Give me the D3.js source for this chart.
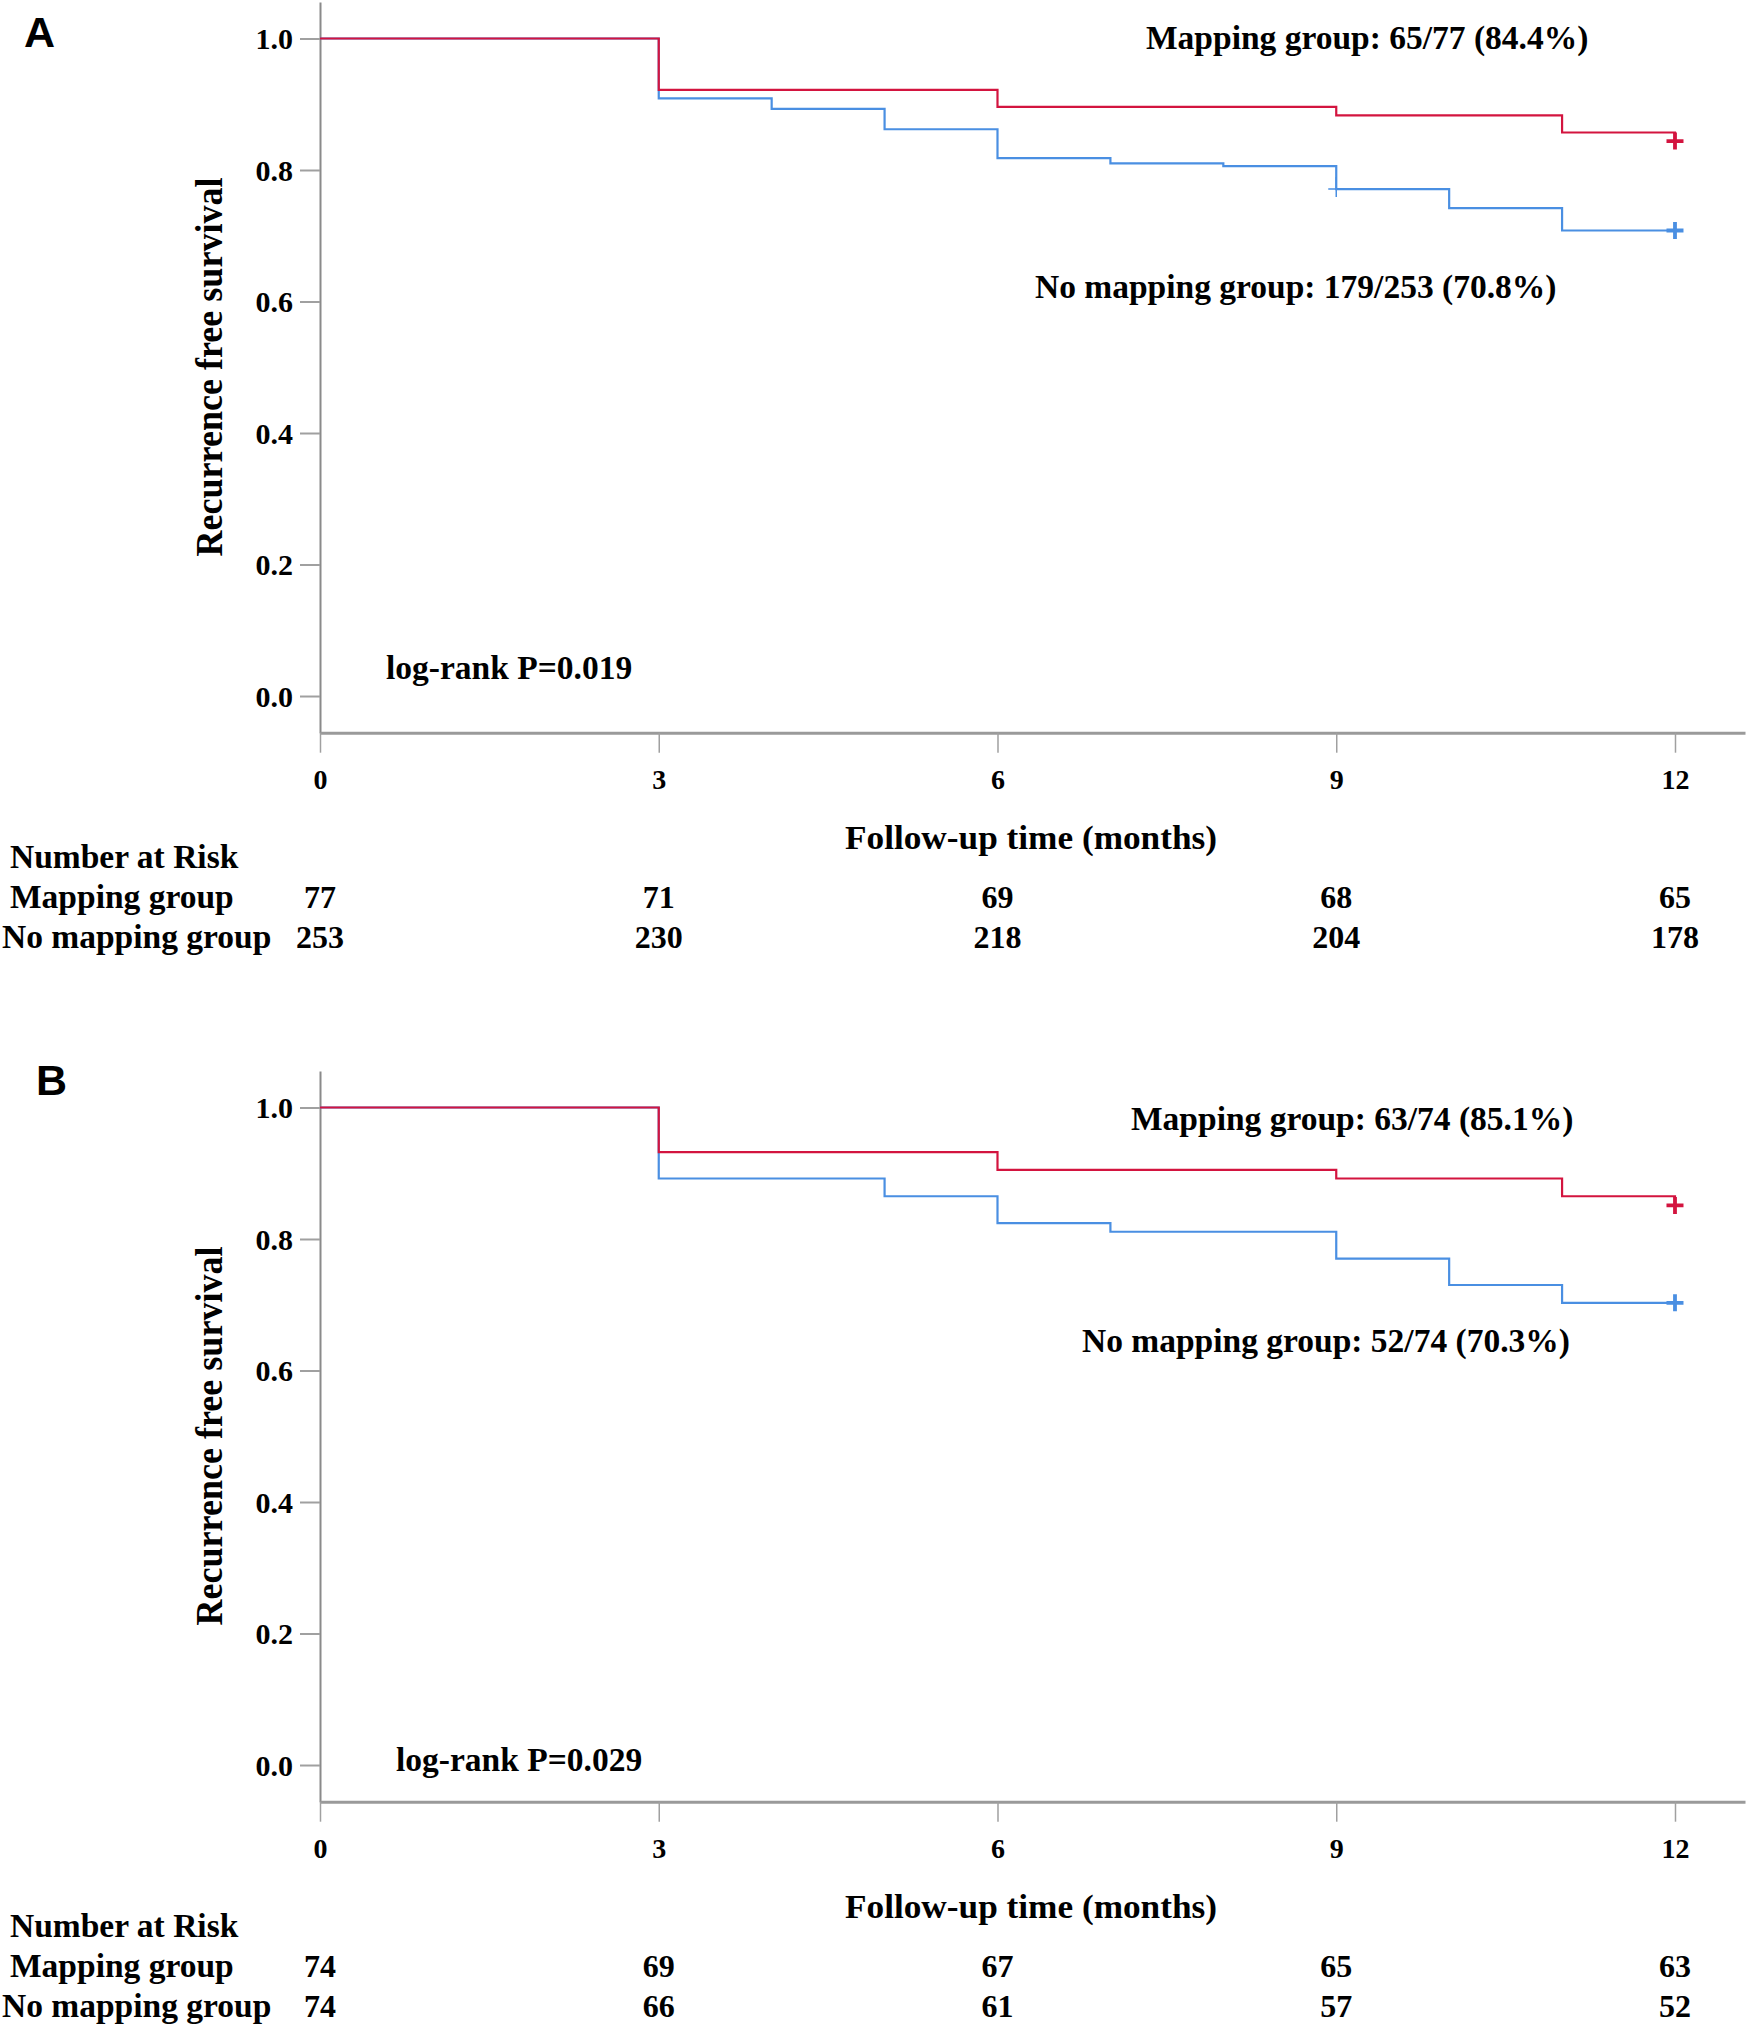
<!DOCTYPE html>
<html>
<head>
<meta charset="utf-8">
<script src="https://cdn.jsdelivr.net/npm/d3@7"></script>
<style>
  body { margin: 0; background: #fff; }
  text { font-family: "Liberation Serif", "Times New Roman", serif; font-weight: bold; fill: #000; }
  .panel-label { font-family: "Liberation Sans", Arial, sans-serif; }
</style>
</head>
<body>
<svg id="chart" width="1750" height="2030"></svg>
<script>
// ---- data ----
const xTicks = [0, 3, 6, 9, 12];
const yTicks = [0, 0.2, 0.4, 0.6, 0.8, 1.0];
const riskRows = ["Mapping group", "No mapping group"];

// panel A
const mapTimesA = [0, 3, 6, 9, 11, 12];
const mapSurvA = [1, 0.922, 0.896, 0.883, 0.857, 0.844];
const noMapTimesA = [0, 3, 4, 5, 6, 7, 8, 9, 10, 11, 12];
const noMapSurvA = [1, 0.909, 0.893, 0.862, 0.818, 0.810, 0.806, 0.771, 0.742, 0.708, 0.708];
const noMapCensorA = [9];
const riskMapA = [77, 71, 69, 68, 65];
const riskNoMapA = [253, 230, 218, 204, 178];
const mapLabelA = "Mapping group: 65/77 (84.4%)";
const noMapLabelA = "No mapping group: 179/253 (70.8%)";
const pLabelA = "log-rank P=0.019";

// panel B
const mapTimesB = [0, 3, 6, 9, 11, 12];
const mapSurvB = [1, 0.932, 0.905, 0.892, 0.865, 0.851];
const noMapTimesB = [0, 3, 5, 6, 7, 9, 10, 11, 12];
const noMapSurvB = [1, 0.892, 0.865, 0.824, 0.811, 0.770, 0.730, 0.703, 0.703];
const noMapCensorB = [];
const riskMapB = [74, 69, 67, 65, 63];
const riskNoMapB = [74, 66, 61, 57, 52];
const mapLabelB = "Mapping group: 63/74 (85.1%)";
const noMapLabelB = "No mapping group: 52/74 (70.3%)";
const pLabelB = "log-rank P=0.029";

const red = "#d3143f";
const blue = "#4a8fe2";

const svg = d3.select("#chart");

function drawPanel(off, p) {
  const g = svg.append("g").attr("transform", "translate(0," + off + ")");

  const x = d3.scaleLinear().domain([0, 12.62]).range([320, 1745]);
  const y = d3.scaleLinear().domain([-0.0558, 1.0555]).range([732.7, 2]);

  // y axis
  const ya = g.append("g").attr("transform", "translate(320,0)")
    .call(d3.axisLeft(y).tickValues(yTicks).tickFormat(d3.format(".1f")).tickSize(20).tickSizeOuter(0).tickPadding(8));
  ya.select(".domain").attr("stroke", "#8a8a8a").attr("stroke-width", 2);
  ya.selectAll(".tick line").attr("stroke", "#a0a0a0").attr("stroke-width", 2);
  ya.selectAll(".tick text").attr("font-size", 30).attr("font-family", null).attr("dy", "0.34em").attr("x", -27);

  // x axis
  const xa = g.append("g").attr("transform", "translate(0,732.7)")
    .call(d3.axisBottom(x).tickValues(xTicks).tickSize(20).tickSizeOuter(0));
  xa.select(".domain").attr("stroke", "#9a9a9a").attr("stroke-width", 3);
  xa.selectAll(".tick line").attr("stroke", "#a0a0a0").attr("stroke-width", 1.5);
  xa.selectAll(".tick text").attr("font-size", 28).attr("font-family", null).attr("y", 56).attr("dy", 0);

  // axis titles
  g.append("text")
    .attr("transform", "translate(222,367) rotate(-90)")
    .attr("text-anchor", "middle")
    .attr("font-size", 38)
    .attr("textLength", 379).attr("lengthAdjust", "spacingAndGlyphs")
    .text("Recurrence free survival");
  g.append("text")
    .attr("x", 1031).attr("y", 849)
    .attr("text-anchor", "middle")
    .attr("font-size", 33)
    .attr("textLength", 372).attr("lengthAdjust", "spacingAndGlyphs")
    .text("Follow-up time (months)");

  // curves
  const line = d3.line().curve(d3.curveStepAfter).x(d => x(d[0])).y(d => y(d[1]));
  const series = [
    { t: p.noMapT, s: p.noMapS, c: blue, cens: p.noMapCens },
    { t: p.mapT, s: p.mapS, c: red, cens: [] }
  ];
  series.forEach(se => {
    const pts = se.t.map((t, i) => [t, se.s[i]]);
    g.append("path").datum(pts).attr("d", line)
      .attr("fill", "none").attr("stroke", se.c).attr("stroke-width", 2.2);
    // censor marks inside follow-up
    se.cens.forEach(ct => {
      const i = d3.bisectRight(se.t, ct) - 1;
      const cx = x(ct), cy = y(se.s[i]);
      g.append("path").attr("d", `M${cx - 8},${cy}H${cx + 8}M${cx},${cy - 12}V${cy + 8}`)
        .attr("stroke", se.c).attr("stroke-width", 1.5).attr("fill", "none");
    });
    // end-of-follow-up censor mark
    const last = pts[pts.length - 1];
    const ex = x(last[0]), ey = y(last[1]);
    g.append("path").attr("d", `M${ex - 8.5},${ey}H${ex + 8.5}M${ex},${ey - 8.5}V${ey + 8.5}`)
      .attr("stroke", se.c).attr("stroke-width", 3.8).attr("fill", "none");
  });

  // annotations
  g.append("text").attr("x", p.mapXY[0]).attr("y", p.mapXY[1]).attr("font-size", 33.5).text(p.mapLabel);
  g.append("text").attr("x", p.noMapXY[0]).attr("y", p.noMapXY[1]).attr("font-size", 33.5).text(p.noMapLabel);
  g.append("text").attr("x", p.pXY[0]).attr("y", p.pXY[1]).attr("font-size", 33.5).text(p.pLabel);

  // panel letter
  g.append("text").attr("class", "panel-label")
    .attr("x", p.letterXY[0]).attr("y", p.letterXY[1]).attr("font-size", 43).text(p.letter);

  // number at risk table
  g.append("text").attr("x", 10).attr("y", 868).attr("font-size", 33.5).text("Number at Risk");
  g.append("text").attr("x", 10).attr("y", 908).attr("font-size", 33.5).text(riskRows[0]);
  g.append("text").attr("x", 2).attr("y", 948).attr("font-size", 33.5).text(riskRows[1]);
  [p.riskMap, p.riskNoMap].forEach((row, r) => {
    g.selectAll(null).data(row).join("text")
      .attr("x", (d, i) => x(xTicks[i]))
      .attr("y", r === 0 ? 908 : 948)
      .attr("text-anchor", "middle")
      .attr("font-size", 32)
      .text(d => d);
  });
}

drawPanel(0, {
  mapT: mapTimesA, mapS: mapSurvA, noMapT: noMapTimesA, noMapS: noMapSurvA, noMapCens: noMapCensorA,
  riskMap: riskMapA, riskNoMap: riskNoMapA,
  mapLabel: mapLabelA, noMapLabel: noMapLabelA, pLabel: pLabelA,
  mapXY: [1146, 49], noMapXY: [1035, 298], pXY: [386, 679],
  letter: "A", letterXY: [24, 47]
});
drawPanel(1069, {
  mapT: mapTimesB, mapS: mapSurvB, noMapT: noMapTimesB, noMapS: noMapSurvB, noMapCens: noMapCensorB,
  riskMap: riskMapB, riskNoMap: riskNoMapB,
  mapLabel: mapLabelB, noMapLabel: noMapLabelB, pLabel: pLabelB,
  mapXY: [1131, 61], noMapXY: [1082, 283], pXY: [396, 702],
  letter: "B", letterXY: [36, 26]
});
</script>
</body>
</html>
